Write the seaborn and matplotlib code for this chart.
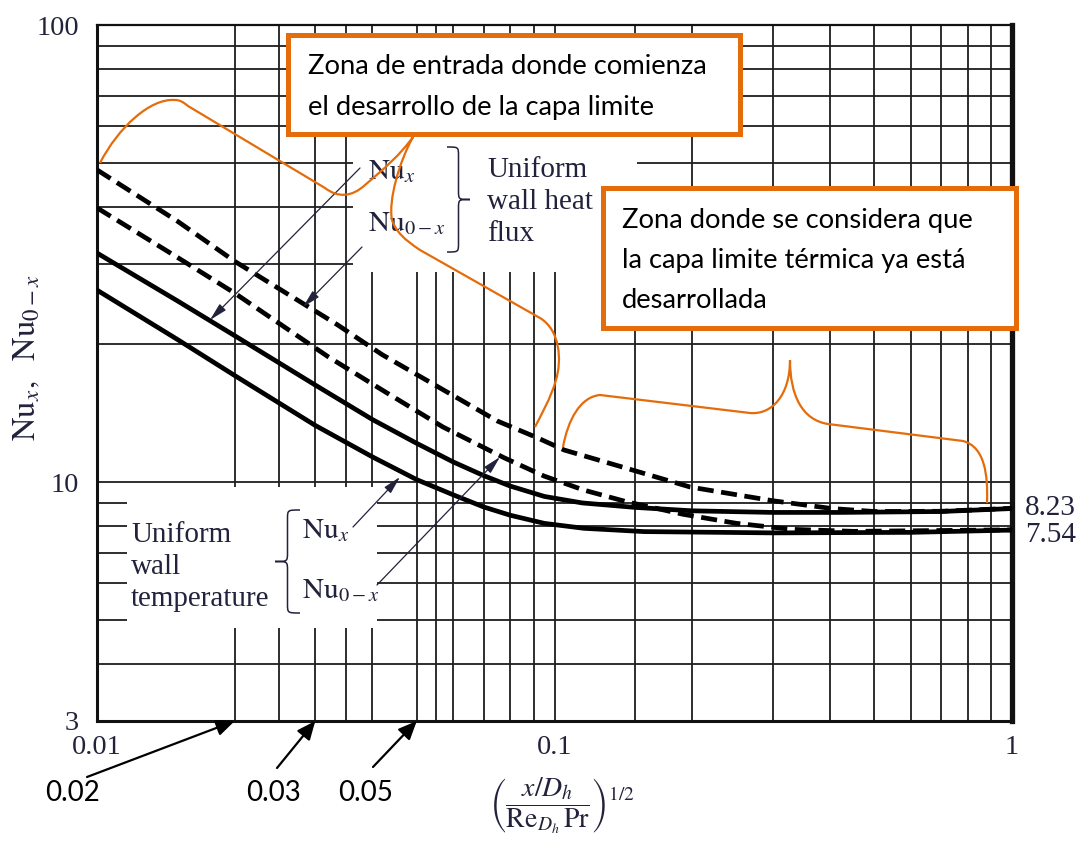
import numpy as np
import pandas as pd
import matplotlib
matplotlib.use("Agg")
import matplotlib.pyplot as plt
import matplotlib.transforms as mtransforms
from matplotlib.path import Path
from matplotlib.patches import PathPatch, Rectangle
from matplotlib.ticker import FixedLocator, NullFormatter
import seaborn as sns

# --- valores (Nu vs (x/Dh / Re Pr)^1/2) ---
# flujo de calor uniforme, Nu_x (linea continua superior)
x_flux_local = [0.01, 0.015, 0.02, 0.03, 0.04, 0.05, 0.06, 0.07, 0.08, 0.095, 0.115,
                0.15, 0.2, 0.3, 0.42, 0.7, 1.0]
nu_flux_local = [31.7, 24.9, 20.9, 16.3, 13.7, 12.15, 11.07, 10.33, 9.8, 9.3, 9.0,
                 8.8, 8.65, 8.58, 8.58, 8.62, 8.75]
# flujo de calor uniforme, Nu_0-x (discontinua superior)
x_flux_mean = [0.01, 0.015, 0.02, 0.0335, 0.042, 0.0572, 0.075, 0.0917, 0.105, 0.14,
               0.198, 0.3, 0.404, 0.5, 0.7, 1.0]
nu_flux_mean = [48.2, 37.2, 30.4, 22.1, 19.0, 15.9, 13.6, 12.5, 11.75, 10.8,
                9.75, 9.1, 8.75, 8.62, 8.63, 8.76]
# temperatura de pared uniforme, Nu_x (continua inferior)
x_temp_local = [0.01, 0.015, 0.02, 0.03, 0.04, 0.05, 0.06, 0.07, 0.08, 0.095,
                0.116, 0.157, 0.3, 0.6, 1.0]
nu_temp_local = [26.3, 20.5, 17.1, 13.3, 11.35, 10.12, 9.38, 8.82, 8.46, 8.12,
                 7.92, 7.79, 7.74, 7.76, 7.85]
# temperatura de pared uniforme, Nu_0-x (discontinua inferior)
x_temp_mean = [0.01, 0.015, 0.02, 0.032, 0.042, 0.057, 0.0776, 0.095, 0.116, 0.144,
               0.191, 0.25, 0.33, 0.45, 1.0]
nu_temp_mean = [39.8, 31.0, 25.9, 18.8, 15.9, 13.2, 11.3, 10.3, 9.6, 9.05,
                8.5, 8.12, 7.88, 7.8, 7.86]

tick_x = [0.01, 0.1, 1]
tick_x_labels = ["0.01", "0.1", "1"]
tick_y = [3, 10, 100]
tick_y_labels = ["3", "10", "100"]
grid_x = [0.02, 0.025, 0.03, 0.035, 0.04, 0.05, 0.055, 0.06, 0.07, 0.08, 0.09,
          0.15, 0.2, 0.3, 0.4, 0.5, 0.6, 0.7, 0.8, 0.9]
grid_y = [4, 5, 6, 7, 8, 9, 20, 30, 40, 50, 60, 70, 80, 90]
limit_labels = ["8.23", "7.54"]
marked_x = [0.02, 0.03, 0.05]
marked_labels = ["0.02", "0.03", "0.05"]

frames = []
for name, kind, xs, ys in [("flux_local", "Nu_x", x_flux_local, nu_flux_local),
                           ("flux_mean", "Nu_0-x", x_flux_mean, nu_flux_mean),
                           ("temp_local", "Nu_x", x_temp_local, nu_temp_local),
                           ("temp_mean", "Nu_0-x", x_temp_mean, nu_temp_mean)]:
    frames.append(pd.DataFrame({"x": xs, "Nu": ys, "curve": name, "kind": kind}))
df = pd.concat(frames, ignore_index=True)

sns.set_style("white")
plt.rcParams["font.family"] = ["Liberation Serif", "DejaVu Serif"]
plt.rcParams["mathtext.fontset"] = "stix"

ink = "#22223c"
orange = "#E46C0A"
W, H = 1089, 848
serif_size = 21

fig = plt.figure(figsize=(W / 100, H / 100), dpi=100)
ax = fig.add_axes([97 / W, 1 - 721 / H, (1012 - 97) / W, (721 - 25) / H])
# pixel coordinates measured from the top-left corner of the image
px = mtransforms.Affine2D().scale(1 / W, -1 / H).translate(0, 1) + fig.transFigure

sns.lineplot(data=df, x="x", y="Nu", hue="curve", style="kind",
             palette={c: "black" for c in df["curve"].unique()},
             dashes={"Nu_x": "", "Nu_0-x": (3.4, 1.6)},
             estimator=None, sort=False, legend=False, lw=3.4, ax=ax, zorder=3)

ax.set_xscale("log")
ax.set_yscale("log")
ax.set_xlim(0.01, 1)
ax.set_ylim(3, 100)
ax.set_xticks(tick_x)
ax.set_xticklabels(tick_x_labels)
ax.set_yticks(tick_y)
ax.set_yticklabels(tick_y_labels)
ax.xaxis.set_minor_locator(FixedLocator(grid_x))
ax.yaxis.set_minor_locator(FixedLocator(grid_y))
ax.xaxis.set_minor_formatter(NullFormatter())
ax.yaxis.set_minor_formatter(NullFormatter())
ax.set_axisbelow(True)
ax.grid(which="both", color="#1e1e1e", lw=1.3)
ax.tick_params(which="both", length=0, labelsize=20.5, colors=ink)
ax.tick_params(axis="y", pad=13)
ax.tick_params(axis="x", pad=10)
ax.set_xlabel("")
ax.set_ylabel("")
for side, w in [("left", 2.2), ("bottom", 2.2), ("right", 3.8), ("top", 1.6)]:
    ax.spines[side].set_visible(True)
    ax.spines[side].set_color("#111111")
    ax.spines[side].set_linewidth(w)

# zonas blancas detras de los rotulos
for x0, y0, x1, y1 in [(353, 130, 637, 272), (127, 487, 377, 628)]:
    ax.add_patch(Rectangle((x0, y0), x1 - x0, y1 - y0, transform=px,
                           facecolor="white", edgecolor="none", zorder=1))

# etiquetas de los ejes
ax.text(27, 358, r"$\mathrm{Nu}_x,\ \ \mathrm{Nu}_{0-x}$", transform=px, rotation=90,
        ha="center", va="center", fontsize=23.5, color=ink)
ax.text(562, 806, r"$\left(\dfrac{x/D_h}{\mathrm{Re}_{D_h}\,\mathrm{Pr}}\right)^{1/2}$",
        transform=px, ha="center", va="center", fontsize=20, color=ink)
ax.text(1025, 515, limit_labels[0], transform=px, fontsize=serif_size, color=ink,
        va="baseline")
ax.text(1025, 542, limit_labels[1], transform=px, fontsize=serif_size, color=ink,
        va="baseline")


def label(x, y, s):
    ax.text(x, y, s, transform=px, fontsize=serif_size, color=ink, va="baseline", zorder=5)


label(368, 179, r"$\mathrm{Nu}_x$")
label(368, 231, r"$\mathrm{Nu}_{0-x}$")
for i, s in enumerate(["Uniform", "wall heat", "flux"]):
    label(487, 177 + 32 * i, s)
label(302, 538, r"$\mathrm{Nu}_x$")
label(302, 598, r"$\mathrm{Nu}_{0-x}$")
for i, s in enumerate(["Uniform", "wall", "temperature"]):
    label(131, 542 + 32 * i, s)


def brace(x_end, x_tip, y0, y1, r=9):
    ym = (y0 + y1) / 2
    xm = (x_end + x_tip) / 2
    verts = [(x_end, y0), (xm, y0), (xm, y0), (xm, y0 + r), (xm, ym - r),
             (xm, ym), (xm, ym), (x_tip, ym), (xm, ym), (xm, ym), (xm, ym + r),
             (xm, y1 - r), (xm, y1), (xm, y1), (x_end, y1)]
    codes = [Path.MOVETO] + [Path.CURVE4] * 3 + [Path.LINETO] + [Path.CURVE4] * 6 + \
            [Path.LINETO] + [Path.CURVE4] * 3
    ax.add_patch(PathPatch(Path(verts, codes), transform=px, fill=False,
                           edgecolor=ink, lw=1.1, zorder=5, clip_on=False))


brace(447, 470, 147, 252)
brace(300, 275, 510, 613)

thin = dict(arrowstyle="-|>,head_length=0.9,head_width=0.22", lw=0.9, color=ink,
            mutation_scale=12, shrinkA=0, shrinkB=0)
for start, tip in [((360, 168), (210, 320)), ((362, 247), (303, 307)),
                   ((353, 527), (400, 477)), ((377, 585), (500, 457))]:
    ax.annotate("", xy=tip, xycoords=px, xytext=start, textcoords=px,
                arrowprops=thin, zorder=5)

# flechas negras hacia 0.02, 0.03, 0.05
bold = dict(arrowstyle="-|>,head_length=0.8,head_width=0.35", lw=1.6, color="black",
            mutation_scale=14, shrinkA=0, shrinkB=0)
for xv, lab, start, tx in zip(marked_x, marked_labels,
                              [(87, 777), (277, 768), (373, 767)], [45, 246, 338]):
    ax.annotate("", xy=(xv, 3), xycoords="data", xytext=start, textcoords=px,
                arrowprops=bold, annotation_clip=False, zorder=6)
    ax.text(tx, 801, lab, transform=px, fontsize=20, family="Lato", color="black",
            va="baseline")

# cuadros naranjas con texto
for x0, y0, x1, y1 in [(288, 34.5, 740, 133.5), (602.5, 187.5, 1015.5, 327.5)]:
    ax.add_patch(Rectangle((x0, y0), x1 - x0, y1 - y0, transform=px, facecolor="white",
                           edgecolor=orange, lw=3.6, zorder=7, clip_on=False))
for i, s in enumerate(["Zona de entrada donde comienza", "el desarrollo de la capa limite"]):
    ax.text(308, 74 + 41 * i, s, transform=px, fontsize=19.7, family="Lato",
            color="black", va="baseline", zorder=8)
for i, s in enumerate(["Zona donde se considera que", "la capa limite térmica ya está",
                       "desarrollada"]):
    ax.text(622, 228 + 40 * i, s, transform=px, fontsize=19.7, family="Lato",
            color="black", va="baseline", zorder=8)

# llaves naranjas dibujadas a mano
M, L, C = Path.MOVETO, Path.LINETO, Path.CURVE4
brace1 = [(M, (100, 163)), (C, (118, 128)), (C, (150, 98)), (C, (175, 100)),
          (C, (180, 100)), (C, (183, 102)), (C, (188, 106)), (L, (325, 188)),
          (C, (338, 198)), (C, (352, 197)), (C, (365, 185)),
          (C, (385, 168)), (C, (400, 155)), (C, (413, 137)),
          (C, (400, 160)), (C, (388, 200)), (C, (392, 220)),
          (C, (396, 232)), (C, (405, 240)), (C, (420, 250)), (L, (540, 318)),
          (C, (560, 330)), (C, (562, 360)), (C, (556, 380)),
          (C, (550, 400)), (C, (542, 413)), (C, (535, 427))]
brace2 = [(M, (563, 447)), (C, (568, 420)), (C, (580, 397)), (C, (600, 395)),
          (L, (750, 413)), (C, (772, 415)), (C, (790, 395)), (C, (790, 360)),
          (C, (790, 395)), (C, (802, 420)), (C, (828, 424)), (L, (963, 441)),
          (C, (985, 447)), (C, (988, 475)), (C, (987, 503))]
for b in [brace1, brace2]:
    codes, verts = zip(*b)
    ax.add_patch(PathPatch(Path(list(verts), list(codes)), transform=px, fill=False,
                           edgecolor=orange, lw=1.6, zorder=6, clip_on=False))

fig.savefig("out.png", dpi=100)
